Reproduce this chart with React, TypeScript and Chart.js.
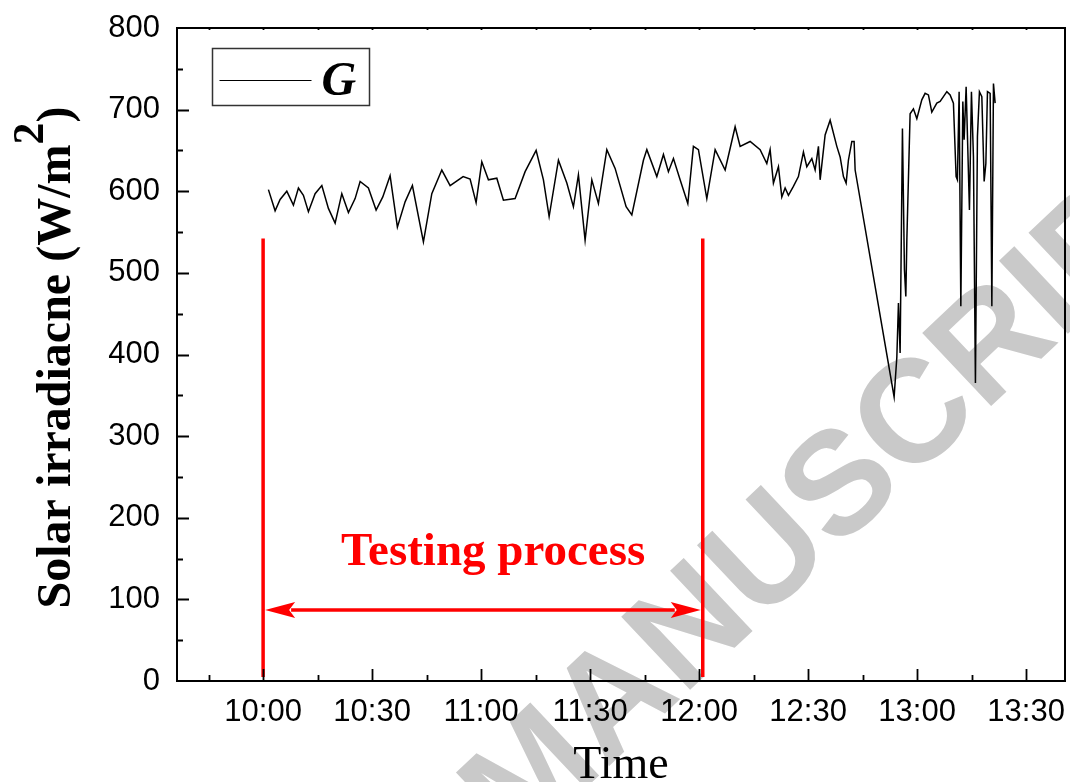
import { useEffect, useRef } from 'react';
import { Chart, registerables } from 'chart.js';

Chart.register(...registerables);

// Sample times in minutes after midnight, and the measured irradiance (W/m2)
const timeMinutes = [
  601.46, 603.3, 604.68, 606.52, 608.34, 609.72, 611.09, 612.47, 614.31, 616.16,
  617.97, 619.82, 621.66, 623.48, 625.32, 626.7, 628.98, 631.1, 632.94, 634.95,
  636.96, 639.08, 641.09, 644.12, 646.43, 649.18, 651.47, 655.05, 656.97, 658.62,
  660.19, 662.01, 664.32, 666.14, 669.36, 672.11, 675.14, 677.15, 678.72, 681.28,
  683.59, 685.4, 686.78, 688.62, 690.47, 692.28, 694.6, 696.88, 699.91, 701.48,
  704.67, 705.61, 708.36, 710.18, 711.55, 712.93, 714.77, 716.89, 718.43, 719.81,
  722.12, 724.41, 727.16, 729.91, 731.29, 734.04, 736.79, 738.63, 739.54, 740.45,
  741.83, 742.76, 743.67, 744.58, 745.95, 747.33, 748.71, 749.64, 751.02, 751.93,
  752.84, 753.31, 754.68, 756.06, 757.9, 758.81, 759.72, 760.46, 761.09, 762.03,
  762.66, 762.94, 773.67, 774.42, 774.86, 775.32, 775.96, 776.51, 776.89, 777.17,
  778.07, 778.98, 779.92, 781.29, 782.2, 783.11, 784.04, 785.42, 786.33, 787.24,
  788.18, 789.08, 789.99, 790.73, 791.09, 791.56, 792.03, 792.58, 792.94, 793.49,
  794.4, 794.95, 795.5, 796.05, 796.6, 797.15, 797.81, 798.45, 798.92, 799.36,
  800.1, 800.57, 801.01, 801.47,
];

const irradiance = [
  602, 576, 590, 600, 583, 604, 595, 575, 597, 607,
  579, 561, 597, 574, 591, 612, 604, 577, 593, 619,
  556, 587, 607, 538, 597, 626, 607, 618, 615, 586,
  636, 614, 616, 589, 591, 624, 650, 614, 569, 638,
  610, 581, 620, 540, 614, 585, 651, 628, 581, 571,
  638, 651, 618, 645, 624, 640, 614, 585, 655, 651,
  591, 651, 626, 679, 655, 661, 651, 634, 651, 610,
  630, 593, 604, 595, 606, 618, 648, 630, 640, 626,
  655, 614, 669, 687, 655, 642, 618, 610, 638, 661,
  661, 626, 348, 397, 463, 402, 677, 504, 471, 540,
  695, 701, 689, 712, 720, 718, 697, 708, 710, 716,
  722, 718, 708, 618, 614, 722, 459, 710, 663, 728,
  577, 722, 642, 365, 667, 722, 716, 612, 634, 722,
  720, 459, 732, 708,
];

// Axis ranges and tick positions
const xMin = 576.3;
const xMax = 820.7;
const xLabelTicks = [600, 630, 660, 690, 720, 750, 780, 810];
const xMarkTicks = [585, 600, 615, 630, 645, 660, 675, 690, 705, 720, 735, 750, 765, 780, 795, 810];
const yMin = 0;
const yMax = 800;
const yMarkTicks = [50, 100, 150, 200, 250, 300, 350, 400, 450, 500, 550, 600, 650, 700, 750];

// Testing-window annotation (minutes, W/m2)
const testStart = 600;
const testEnd = 721;
const markerTop = 542;
const markerBottom = 5;
const arrowLevel = 87;
const testLabel = 'Testing process';
const testLabelX = 663.3;
const testLabelY = 142;

const seriesName = 'G';
const xTitle = 'Time';
const yTitleMain = 'Solar irradiacne (W/m';
const yTitleSup = '2';
const yTitleEnd = ')';
const watermark = 'ACCEPTED MANUSCRIPT';

const SANS = '"Liberation Sans", Arial, sans-serif';
const SERIF = '"Liberation Serif", "Times New Roman", serif';

function formatClock(v: number): string {
  const h = Math.floor(v / 60);
  const m = Math.round(v - h * 60);
  return `${h}:${m.toString().padStart(2, '0')}`;
}

const decorPlugin = {
  id: 'figureDecor',
  beforeDraw(chart: any) {
    const ctx = chart.ctx as CanvasRenderingContext2D;
    ctx.save();
    ctx.fillStyle = '#ffffff';
    ctx.fillRect(0, 0, chart.width, chart.height);
    // faint diagonal watermark
    ctx.font = `bold 146px ${SANS}`;
    ctx.fillStyle = '#c9c9c9';
    ctx.textBaseline = 'middle';
    ctx.textAlign = 'left';
    ctx.translate(856, 478);
    ctx.rotate((-43.3 * Math.PI) / 180);
    const lead = ctx.measureText('ACCEPTED M').width;
    const mid = ctx.measureText('ANUSCRIP').width;
    ctx.fillText(watermark, -(lead + mid / 2), 0);
    ctx.restore();
  },
  afterDatasetsDraw(chart: any) {
    const ctx = chart.ctx as CanvasRenderingContext2D;
    const xs = chart.scales.x;
    const ys = chart.scales.y;
    const area = chart.chartArea;
    ctx.save();

    // red markers for the testing window
    ctx.strokeStyle = '#ff0000';
    ctx.fillStyle = '#ff0000';
    ctx.lineWidth = 3.5;
    ctx.lineCap = 'butt';
    const xa = xs.getPixelForValue(testStart);
    const xb = xs.getPixelForValue(testEnd);
    const yt = ys.getPixelForValue(markerTop);
    const yb = ys.getPixelForValue(markerBottom);
    ctx.beginPath();
    ctx.moveTo(xa, yt);
    ctx.lineTo(xa, yb);
    ctx.moveTo(xb, yt);
    ctx.lineTo(xb, yb);
    ctx.stroke();

    const ay = ys.getPixelForValue(arrowLevel);
    const tipL = xa + 2;
    const tipR = xb - 2;
    const headLen = 30;
    const headHalf = 8;
    ctx.beginPath();
    ctx.moveTo(tipL + headLen - 4, ay);
    ctx.lineTo(tipR - headLen + 4, ay);
    ctx.stroke();
    ctx.beginPath();
    ctx.moveTo(tipL, ay);
    ctx.lineTo(tipL + headLen, ay - headHalf);
    ctx.lineTo(tipL + headLen - 6, ay);
    ctx.lineTo(tipL + headLen, ay + headHalf);
    ctx.closePath();
    ctx.fill();
    ctx.beginPath();
    ctx.moveTo(tipR, ay);
    ctx.lineTo(tipR - headLen, ay - headHalf);
    ctx.lineTo(tipR - headLen + 6, ay);
    ctx.lineTo(tipR - headLen, ay + headHalf);
    ctx.closePath();
    ctx.fill();

    ctx.font = `bold 47px ${SERIF}`;
    ctx.textAlign = 'center';
    ctx.textBaseline = 'alphabetic';
    ctx.fillText(testLabel, xs.getPixelForValue(testLabelX), ys.getPixelForValue(testLabelY));

    // legend box
    const lx = area.left + 35.5;
    const ly = area.top + 20.5;
    ctx.strokeStyle = '#333333';
    ctx.lineWidth = 1.5;
    ctx.strokeRect(lx, ly, 157, 57);
    ctx.strokeStyle = '#000000';
    ctx.lineWidth = 1.2;
    ctx.beginPath();
    ctx.moveTo(lx + 7, ly + 32);
    ctx.lineTo(lx + 99, ly + 32);
    ctx.stroke();
    ctx.fillStyle = '#000000';
    ctx.font = `italic bold 48px ${SERIF}`;
    ctx.textAlign = 'left';
    ctx.fillText(seriesName, lx + 109, ly + 46);

    ctx.restore();
  },
  afterDraw(chart: any) {
    const ctx = chart.ctx as CanvasRenderingContext2D;
    const xs = chart.scales.x;
    const ys = chart.scales.y;
    const { left, right, top, bottom } = chart.chartArea;
    ctx.save();
    ctx.strokeStyle = '#000000';

    // inward tick marks
    ctx.lineWidth = 1.8;
    ctx.beginPath();
    xMarkTicks.forEach((t) => {
      const px = Math.round(xs.getPixelForValue(t)) + 0.5;
      const len = t % 30 === 0 ? 12 : 6;
      ctx.moveTo(px, bottom);
      ctx.lineTo(px, bottom - len);
      ctx.moveTo(px, top);
      ctx.lineTo(px, top + 2);
    });
    yMarkTicks.forEach((v) => {
      const py = Math.round(ys.getPixelForValue(v)) + 0.5;
      const len = v % 100 === 0 ? 12 : 6;
      ctx.moveTo(left, py);
      ctx.lineTo(left + len, py);
    });
    ctx.stroke();

    // plot frame
    ctx.lineWidth = 2;
    ctx.strokeRect(left, top, right - left, bottom - top);

    // x title
    ctx.fillStyle = '#000000';
    ctx.font = `46px ${SERIF}`;
    ctx.textAlign = 'center';
    ctx.textBaseline = 'alphabetic';
    ctx.fillText(xTitle, (left + right) / 2, 778);

    // y title with superscript
    ctx.save();
    ctx.translate(70, (top + bottom) / 2 + 3);
    ctx.rotate(-Math.PI / 2);
    ctx.textAlign = 'left';
    const mainFont = `bold 48px ${SERIF}`;
    const supFont = `bold 44px ${SERIF}`;
    ctx.font = mainFont;
    const w1 = ctx.measureText(yTitleMain).width;
    const w3 = ctx.measureText(yTitleEnd).width;
    ctx.font = supFont;
    const w2 = ctx.measureText(yTitleSup).width;
    let x0 = -(w1 + w2 + w3) / 2;
    ctx.font = mainFont;
    ctx.fillText(yTitleMain, x0, 0);
    x0 += w1;
    ctx.font = supFont;
    ctx.fillText(yTitleSup, x0, -27);
    x0 += w2;
    ctx.font = mainFont;
    ctx.fillText(yTitleEnd, x0, 0);
    ctx.restore();

    ctx.restore();
  },
};

export default function App() {
  const canvasRef = useRef<HTMLCanvasElement | null>(null);

  useEffect(() => {
    if (!canvasRef.current) return;
    const chart = new Chart(canvasRef.current, {
      type: 'line',
      data: {
        datasets: [
          {
            label: seriesName,
            data: timeMinutes.map((t, i) => ({ x: t, y: irradiance[i] })),
            borderColor: '#000000',
            borderWidth: 1.5,
            pointRadius: 0,
            tension: 0,
            fill: false,
          },
        ],
      },
      options: {
        responsive: false,
        animation: false,
        devicePixelRatio: 1,
        layout: { padding: { top: 28, right: 5, left: 0, bottom: 0 } },
        plugins: {
          legend: { display: false },
          tooltip: { enabled: false },
        },
        scales: {
          x: {
            type: 'linear',
            min: xMin,
            max: xMax,
            grid: { display: false, drawTicks: true, tickLength: 11 },
            border: { display: false },
            afterBuildTicks: (scale: any) => {
              scale.ticks = xLabelTicks.map((v) => ({ value: v }));
            },
            afterFit: (scale: any) => {
              scale.height = 101;
            },
            ticks: {
              autoSkip: false,
              maxRotation: 0,
              padding: 2,
              color: '#000000',
              font: { family: SANS, size: 31 },
              callback: (v: any) => formatClock(Number(v)),
            },
          },
          y: {
            min: yMin,
            max: yMax,
            grid: { display: false, drawTicks: true, tickLength: 15 },
            border: { display: false },
            afterFit: (scale: any) => {
              scale.width = 177;
            },
            ticks: {
              stepSize: 100,
              padding: 2,
              color: '#000000',
              font: { family: SANS, size: 31 },
            },
          },
        },
      },
      plugins: [decorPlugin],
    });
    return () => chart.destroy();
  }, []);

  return (
    <div style={{ position: 'fixed', left: 0, top: 0, width: 1070, height: 782, background: '#ffffff' }}>
      <canvas ref={canvasRef} width={1070} height={782} style={{ display: 'block' }} />
    </div>
  );
}
